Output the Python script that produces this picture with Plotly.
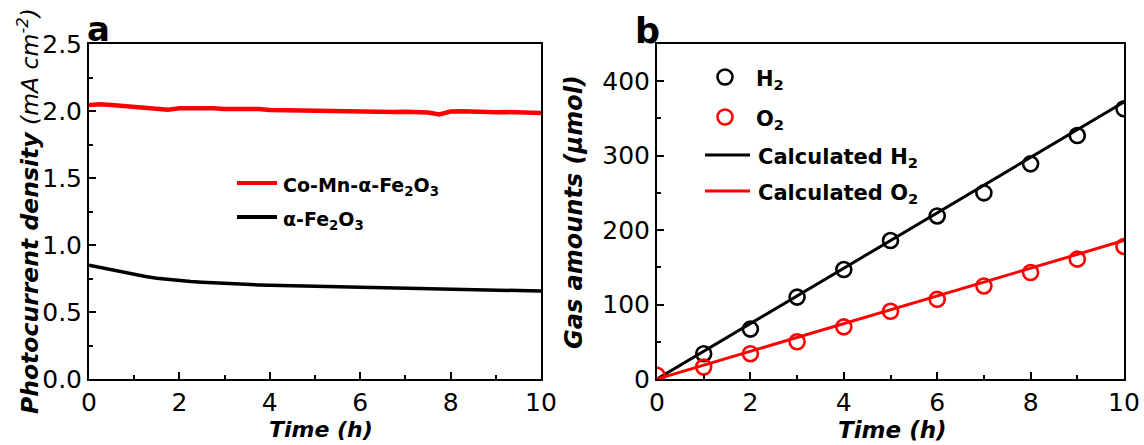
import plotly.graph_objects as go

# ---- panel a: photocurrent stability ----
time_a = [0.0, 0.25, 0.5, 0.75, 1.0, 1.25, 1.5, 1.75, 2.0, 2.25, 2.5, 2.75, 3.0, 3.25,
          3.5, 3.75, 4.0, 4.25, 4.5, 4.75, 5.0, 5.25, 5.5, 5.75, 6.0, 6.25, 6.5, 6.75,
          7.0, 7.25, 7.5, 7.75, 8.0, 8.25, 8.5, 8.75, 9.0, 9.25, 9.5, 9.75, 10.0]
co_mn_fe2o3 = [2.045, 2.050, 2.045, 2.038, 2.032, 2.025, 2.020, 2.010, 2.020, 2.022,
               2.018, 2.020, 2.015, 2.016, 2.012, 2.014, 2.008, 2.006, 2.008, 2.004,
               2.006, 2.002, 2.004, 1.998, 1.996, 1.994, 1.990, 1.992, 1.994, 1.992,
               1.988, 1.975, 1.996, 1.998, 1.994, 1.992, 1.990, 1.992, 1.988, 1.990,
               1.985]
fe2o3 = [0.850, 0.832, 0.818, 0.800, 0.782, 0.765, 0.752, 0.742, 0.734, 0.727,
         0.722, 0.717, 0.713, 0.709, 0.706, 0.702, 0.699, 0.697, 0.694, 0.692,
         0.690, 0.688, 0.686, 0.684, 0.682, 0.680, 0.678, 0.677, 0.675, 0.674,
         0.672, 0.671, 0.669, 0.668, 0.666, 0.664, 0.663, 0.662, 0.660, 0.659,
         0.657]

# ---- panel b: evolved gas amounts ----
h2_time = [1, 2, 3, 4, 5, 6, 7, 8, 9, 10]
h2_umol = [34, 67, 110, 147, 186, 219, 250, 289, 327, 363]
o2_time = [0, 1, 2, 3, 4, 5, 6, 7, 8, 9, 10]
o2_umol = [5, 16, 34, 50, 70, 91, 107, 125, 143, 161, 178]
calc_time = [0, 10]
calc_h2 = [0, 372]
calc_o2 = [0, 186]

W, H = 1144, 445
FONT = "DejaVu Sans"
RED = "#ff0000"
BLACK = "#000000"


def px(x):
    return x / W


def py(y):
    return 1 - y / H


fig = go.Figure()

fig.add_trace(go.Scatter(x=time_a, y=co_mn_fe2o3, mode="lines",
                         line=dict(color=RED, width=4.5), xaxis="x", yaxis="y"))
fig.add_trace(go.Scatter(x=time_a, y=fe2o3, mode="lines",
                         line=dict(color=BLACK, width=3.5), xaxis="x", yaxis="y"))

fig.add_trace(go.Scatter(x=calc_time, y=calc_h2, mode="lines",
                         line=dict(color=BLACK, width=3), xaxis="x2", yaxis="y2"))
fig.add_trace(go.Scatter(x=calc_time, y=calc_o2, mode="lines",
                         line=dict(color=RED, width=3), xaxis="x2", yaxis="y2"))
fig.add_trace(go.Scatter(x=h2_time, y=h2_umol, mode="markers",
                         marker=dict(symbol="circle-open", size=15, color=BLACK,
                                     line=dict(width=2.6)),
                         xaxis="x2", yaxis="y2"))
fig.add_trace(go.Scatter(x=o2_time, y=o2_umol, mode="markers",
                         marker=dict(symbol="circle-open", size=15, color=RED,
                                     line=dict(width=2.6)),
                         xaxis="x2", yaxis="y2"))

axis_common = dict(
    showline=True, linecolor=BLACK, linewidth=2, mirror=True,
    ticks="inside", ticklen=7, tickwidth=2, tickcolor=BLACK,
    showgrid=False, zeroline=False, automargin=False,
    tickfont=dict(family=FONT, size=25, color=BLACK),
    minor=dict(ticks="inside", ticklen=4, tickwidth=2, tickcolor=BLACK),
)

fig.update_layout(
    width=W, height=H,
    margin=dict(l=0, r=0, t=0, b=0, pad=0),
    paper_bgcolor="white", plot_bgcolor="white",
    showlegend=False,
    xaxis=dict(domain=[px(89), px(541)], range=[0, 10], dtick=2,
               anchor="y", **axis_common),
    yaxis=dict(domain=[py(379), py(44)], range=[0, 2.5], dtick=0.5,
               tickformat=".1f", anchor="x", **axis_common),
    xaxis2=dict(domain=[px(657), px(1124)], range=[0, 10], dtick=2,
                anchor="y2", **axis_common),
    yaxis2=dict(domain=[py(379), py(44)], range=[0, 450], dtick=100,
                anchor="x2", **axis_common),
)
fig.update_xaxes(minor_dtick=1)
fig.layout.yaxis.minor.dtick = 0.25
fig.layout.yaxis2.minor.dtick = 50

annotations = []
shapes = []


def text(x, y, s, size, xanchor="left", yanchor="middle", angle=0):
    annotations.append(dict(
        x=px(x), y=py(y), xref="paper", yref="paper", text=s, showarrow=False,
        xanchor=xanchor, yanchor=yanchor, textangle=angle,
        font=dict(family=FONT, size=size, color=BLACK)))


# panel letters
text(85, 29, "<b>a</b>", 34)
text(633, 31, "<b>b</b>", 35)

# axis titles
text(321, 429, "<b><i>Time (h)</i></b>", 22, xanchor="center")
text(892, 430, "<b><i>Time (h)</i></b>", 23, xanchor="center")
text(28, 211, "<b><i>Photocurrent density</i></b> <i>(mA cm<sup>-2</sup>)</i>", 23.5,
     xanchor="center", angle=-90)
text(574, 212, "<b><i>Gas amounts (μmol)</i></b>", 24, xanchor="center", angle=-90)

# legend, panel a
for yy, col, label in [(183, RED, "<b>Co-Mn-α-Fe<sub>2</sub>O<sub>3</sub></b>"),
                       (217, BLACK, "<b>α-Fe<sub>2</sub>O<sub>3</sub></b>")]:
    shapes.append(dict(type="line", xref="paper", yref="paper",
                       x0=px(237), x1=px(277), y0=py(yy), y1=py(yy),
                       line=dict(color=col, width=4)))
    text(281, yy + 3, label, 19)

# legend, panel b
for yy, col, label in [(77, BLACK, "<b>H<sub>2</sub></b>"),
                       (117, RED, "<b>O<sub>2</sub></b>")]:
    shapes.append(dict(type="circle", xref="paper", yref="paper",
                       xsizemode="pixel", ysizemode="pixel",
                       xanchor=px(725), yanchor=py(yy),
                       x0=-7.5, x1=7.5, y0=-7.5, y1=7.5,
                       line=dict(color=col, width=2.6)))
    text(754, yy + 3, label, 21)
for yy, col, label in [(155, BLACK, "<b>Calculated H<sub>2</sub></b>"),
                       (191, RED, "<b>Calculated O<sub>2</sub></b>")]:
    shapes.append(dict(type="line", xref="paper", yref="paper",
                       x0=px(705), x1=px(750), y0=py(yy), y1=py(yy),
                       line=dict(color=col, width=3)))
    text(756, yy + 3, label, 21)

fig.update_layout(annotations=annotations, shapes=shapes)

fig.write_html("out.html")
